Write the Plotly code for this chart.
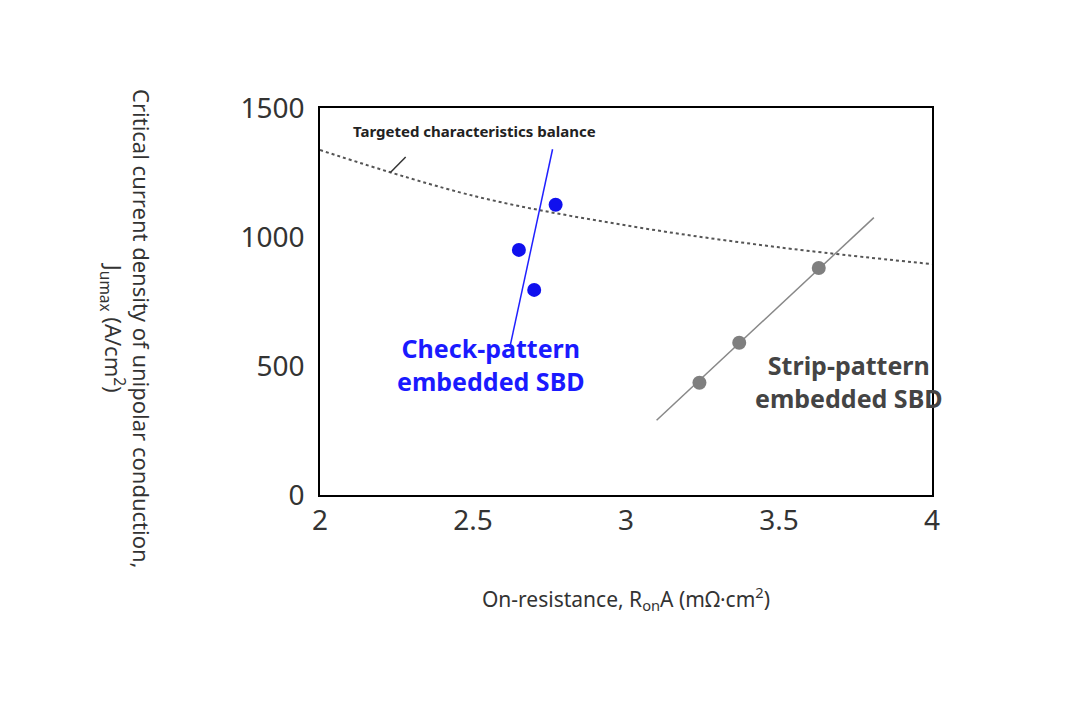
import plotly.graph_objects as go

# blue: check-pattern embedded SBD
check_x = [2.65, 2.70, 2.77]
check_y = [950, 795, 1125]
check_fit_x = [2.62, 2.76]
check_fit_y = [570, 1340]

# gray: strip-pattern embedded SBD
strip_x = [3.24, 3.37, 3.63]
strip_y = [435, 590, 880]
strip_fit_x = [3.10, 3.81]
strip_fit_y = [290, 1075]

# targeted balance curve
target_x = [2.0, 2.5, 3.0, 3.5, 4.0]
target_y = [1337, 1160, 1045, 960, 895]

fig = go.Figure()
fig.add_trace(go.Scatter(x=target_x, y=target_y, mode="lines", line=dict(color="#555", width=2, dash="dot", shape="spline")))
fig.add_trace(go.Scatter(x=check_fit_x, y=check_fit_y, mode="lines", line=dict(color="#2020ff", width=1.5)))
fig.add_trace(go.Scatter(x=check_x, y=check_y, mode="markers", marker=dict(color="#1010ee", size=14)))
fig.add_trace(go.Scatter(x=strip_fit_x, y=strip_fit_y, mode="lines", line=dict(color="#888", width=1.5)))
fig.add_trace(go.Scatter(x=strip_x, y=strip_y, mode="markers", marker=dict(color="#7f7f7f", size=14)))

fig.add_annotation(x=2.1, y=1410, text="<b>Targeted characteristics balance</b>", showarrow=False,
                   xanchor="left", font=dict(size=15, color="#222"))
fig.add_shape(type="line", x0=2.23, y0=1250, x1=2.28, y1=1310, line=dict(color="#333", width=1.5))
fig.add_annotation(x=2.56, y=505, text="<b>Check-pattern<br>embedded SBD</b>", showarrow=False,
                   font=dict(size=25, color="#1a1aff"))
fig.add_annotation(x=3.73, y=440, text="<b>Strip-pattern<br>embedded SBD</b>", showarrow=False,
                   font=dict(size=25, color="#444"))
fig.add_annotation(xref="paper", yref="paper", x=-0.37, y=0.43, textangle=90,
                   text="Critical current density of unipolar conduction,<br>J<sub>umax</sub> (A/cm<sup>2</sup>)",
                   showarrow=False, font=dict(size=22, color="#333"))

fig.update_layout(
    width=1080, height=720, showlegend=False,
    plot_bgcolor="white", paper_bgcolor="white",
    font=dict(family="Noto Sans", color="#333"),
    margin=dict(l=312, r=156, t=100, b=233),
)
fig.update_xaxes(range=[2, 4], dtick=0.5, showline=True, mirror=True, linecolor="black", linewidth=1.5,
                 showgrid=False, zeroline=False, tickfont=dict(size=28), ticklen=0,
                 title=dict(text="On-resistance, R<sub>on</sub>A (mΩ·cm<sup>2</sup>)", font=dict(size=21), standoff=55))
fig.update_yaxes(range=[0, 1500], dtick=500, showline=True, mirror=True, linecolor="black", linewidth=1.5,
                 showgrid=False, zeroline=False, tickfont=dict(size=28), ticklen=0, ticklabelstandoff=8)

fig.write_html("out.html")
